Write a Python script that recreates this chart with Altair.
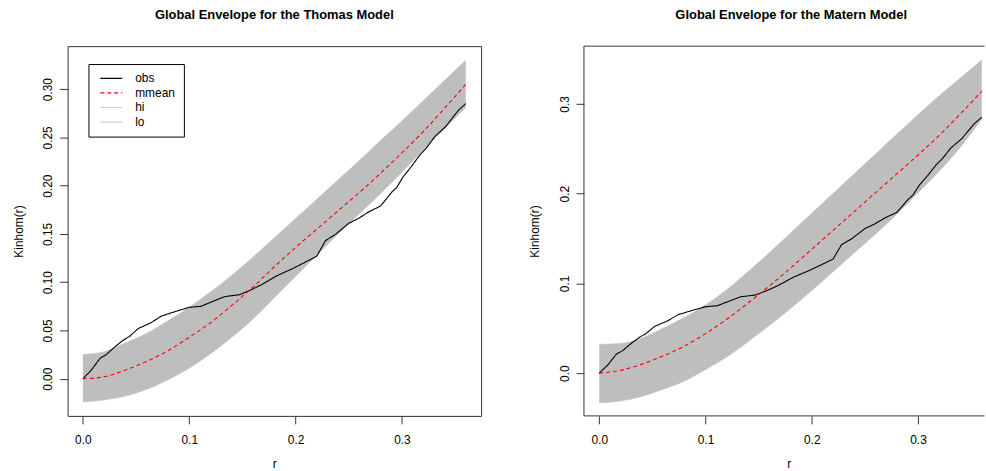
import altair as alt
import pandas as pd

# ---- data ----
r_grid = [0.00, 0.02, 0.04, 0.06, 0.08, 0.10, 0.12, 0.14, 0.16, 0.18,
          0.20, 0.22, 0.24, 0.26, 0.28, 0.30, 0.32, 0.34, 0.36]

thomas_hi = [0.025, 0.028, 0.037, 0.047, 0.060, 0.074, 0.090, 0.107, 0.126, 0.146,
             0.166, 0.186, 0.206, 0.226, 0.247, 0.267, 0.288, 0.309, 0.330]
thomas_lo = [-0.024, -0.022, -0.018, -0.011, -0.001, 0.011, 0.026, 0.043, 0.062, 0.084,
             0.106, 0.128, 0.150, 0.171, 0.192, 0.214, 0.237, 0.259, 0.281]
thomas_mmean = [0.000, 0.002, 0.009, 0.018, 0.029, 0.043, 0.058, 0.076, 0.095, 0.116,
                0.136, 0.155, 0.174, 0.193, 0.213, 0.234, 0.256, 0.280, 0.305]

matern_hi = [0.032, 0.033, 0.039, 0.050, 0.062, 0.076, 0.093, 0.113, 0.134, 0.156,
             0.178, 0.200, 0.222, 0.244, 0.266, 0.288, 0.309, 0.329, 0.349]
matern_lo = [-0.033, -0.031, -0.026, -0.018, -0.009, 0.004, 0.018, 0.035, 0.053, 0.072,
             0.092, 0.113, 0.134, 0.155, 0.177, 0.201, 0.225, 0.252, 0.283]
matern_mmean = [0.000, 0.003, 0.010, 0.019, 0.030, 0.044, 0.060, 0.078, 0.097, 0.117,
                0.138, 0.159, 0.180, 0.201, 0.222, 0.243, 0.265, 0.289, 0.314]

obs_r = [0.000, 0.008, 0.016, 0.022, 0.030, 0.038, 0.044, 0.052, 0.064, 0.074,
         0.088, 0.100, 0.111, 0.122, 0.133, 0.147, 0.158, 0.169, 0.183, 0.197,
         0.206, 0.220, 0.228, 0.238, 0.250, 0.259, 0.269, 0.280, 0.291, 0.295,
         0.301, 0.309, 0.317, 0.323, 0.331, 0.341, 0.353, 0.360]
obs_val = [0.000, 0.009, 0.021, 0.025, 0.033, 0.040, 0.044, 0.052, 0.058, 0.065,
           0.070, 0.074, 0.075, 0.080, 0.085, 0.087, 0.092, 0.098, 0.107, 0.114,
           0.119, 0.127, 0.143, 0.150, 0.161, 0.166, 0.173, 0.179, 0.194, 0.198,
           0.209, 0.220, 0.232, 0.239, 0.251, 0.261, 0.278, 0.285]

series_names = ["obs", "mmean", "hi", "lo"]
series_colors = ["#000000", "#FF0000", "#D3D3D3", "#D3D3D3"]
series_dash = [[1, 0], [4, 3], [1, 0], [1, 0]]

FONT = "Liberation Sans"
FRAME = "#333333"
HEIGHT = 372


def panel(title, hi, lo, mmean, ydomain, yticks, yfmt, width, xdomain, title_dx,
          xtitle_x, open_right):
    band = pd.DataFrame({"r": r_grid, "hi": hi, "lo": lo})
    hilo = pd.concat([
        pd.DataFrame({"r": r_grid, "value": hi, "series": "hi"}),
        pd.DataFrame({"r": r_grid, "value": lo, "series": "lo"}),
    ])
    obs = pd.DataFrame({"r": obs_r, "value": obs_val, "series": "obs"})
    mean = pd.DataFrame({"r": r_grid, "value": mmean, "series": "mmean"})

    xenc = alt.X("r:Q",
                 scale=alt.Scale(domain=xdomain, nice=False, zero=False),
                 axis=alt.Axis(values=[0, 0.1, 0.2, 0.3], format=".1f", title="r",
                               labelBaseline="middle", labelPadding=16,
                               titleX=xtitle_x, titleY=48, titleBaseline="middle",
                               titleAlign="center"))
    yaxis = alt.Axis(values=yticks, format=yfmt, title="Kinhom(r)",
                     labelAngle=270, labelAlign="center", labelBaseline="middle",
                     labelPadding=12, titleAngle=270, titleX=-49.5, titleY=HEIGHT / 2,
                     titleBaseline="middle", titleAlign="center")
    yscale = alt.Scale(domain=ydomain, nice=False, zero=False)

    legend = alt.Legend(orient="none", legendX=21, legendY=18, strokeColor="black",
                        fillColor="white", padding=8.4, symbolType="stroke",
                        symbolSize=484, symbolStrokeWidth=1.2, labelFontSize=12,
                        labelFont=FONT, labelColor="black", labelOffset=12,
                        symbolOffset=2.6, rowPadding=2.67, clipHeight=12,
                        cornerRadius=0)
    color = alt.Color("series:N", scale=alt.Scale(domain=series_names, range=series_colors),
                      legend=legend, title=None)
    dash = alt.StrokeDash("series:N", scale=alt.Scale(domain=series_names, range=series_dash),
                          legend=legend, title=None)

    hilo_layer = alt.Chart(hilo).mark_line(strokeWidth=1, interpolate="monotone").encode(
        x=xenc, y=alt.Y("value:Q", scale=yscale, axis=yaxis), color=color, strokeDash=dash)
    area_layer = alt.Chart(band).mark_area(color="#BEBEBE", opacity=1,
                                           interpolate="monotone").encode(
        x=xenc, y=alt.Y("lo:Q", scale=yscale, axis=yaxis), y2="hi:Q")
    mean_layer = alt.Chart(mean).mark_line(strokeWidth=1.1, interpolate="monotone").encode(
        x=xenc, y=alt.Y("value:Q", scale=yscale, axis=yaxis), color=color, strokeDash=dash)
    obs_layer = alt.Chart(obs).mark_line(strokeWidth=1.1).encode(
        x=xenc, y=alt.Y("value:Q", scale=yscale, axis=yaxis), color=color, strokeDash=dash)

    layers = [hilo_layer, area_layer, obs_layer, mean_layer]
    props = dict(width=width, height=HEIGHT, title=alt.TitleParams(title, dx=title_dx))
    if open_right:
        # frame drawn on three sides only: the reference picture is cut at its right edge
        one = pd.DataFrame({"frame": [1]})
        top = alt.Chart(one).mark_rule(color=FRAME, strokeWidth=1).encode(
            x=alt.value(0), x2=alt.value(width + 2), y=alt.value(0))
        left_edge = alt.Chart(one).mark_rule(color=FRAME, strokeWidth=1).encode(
            x=alt.value(0), y=alt.value(0), y2=alt.value(HEIGHT))
        bottom = alt.Chart(one).mark_rule(color=FRAME, strokeWidth=1).encode(
            x=alt.value(0), x2=alt.value(width + 2), y=alt.value(HEIGHT))
        layers += [top, left_edge, bottom]
        props["view"] = alt.ViewBackground(stroke="transparent")
    return alt.layer(*layers).properties(**props)


left = panel("Global Envelope for the Thomas Model", thomas_hi, thomas_lo, thomas_mmean,
             [-0.0385, 0.3445], [0, 0.05, 0.10, 0.15, 0.20, 0.25, 0.30], ".2f",
             416, [-0.0144, 0.3744], 0, 208, False)
right = panel("Global Envelope for the Matern Model", matern_hi, matern_lo, matern_mmean,
              [-0.0477, 0.3643], [0, 0.1, 0.2, 0.3], ".1f",
              401, [-0.0144, 0.3607], 8, 206, True)

chart = alt.hconcat(left, right, spacing=46.5).properties(
    padding={"left": 12, "top": 7, "right": 0, "bottom": 0}
).configure_view(
    stroke=FRAME, strokeWidth=1
).configure_axis(
    grid=False, domain=False, tickColor="#333333", tickSize=8,
    labelFont=FONT, titleFont=FONT, labelFontSize=12, titleFontSize=12,
    labelColor="black", titleColor="black", titleFontWeight="normal",
    labelFlush=False, labelOverlap=False
).configure_title(
    font=FONT, fontSize=13, fontWeight="bold", color="black", anchor="middle", offset=24
)

chart.save("out.html", embed_options={"renderer": "svg", "actions": False})
